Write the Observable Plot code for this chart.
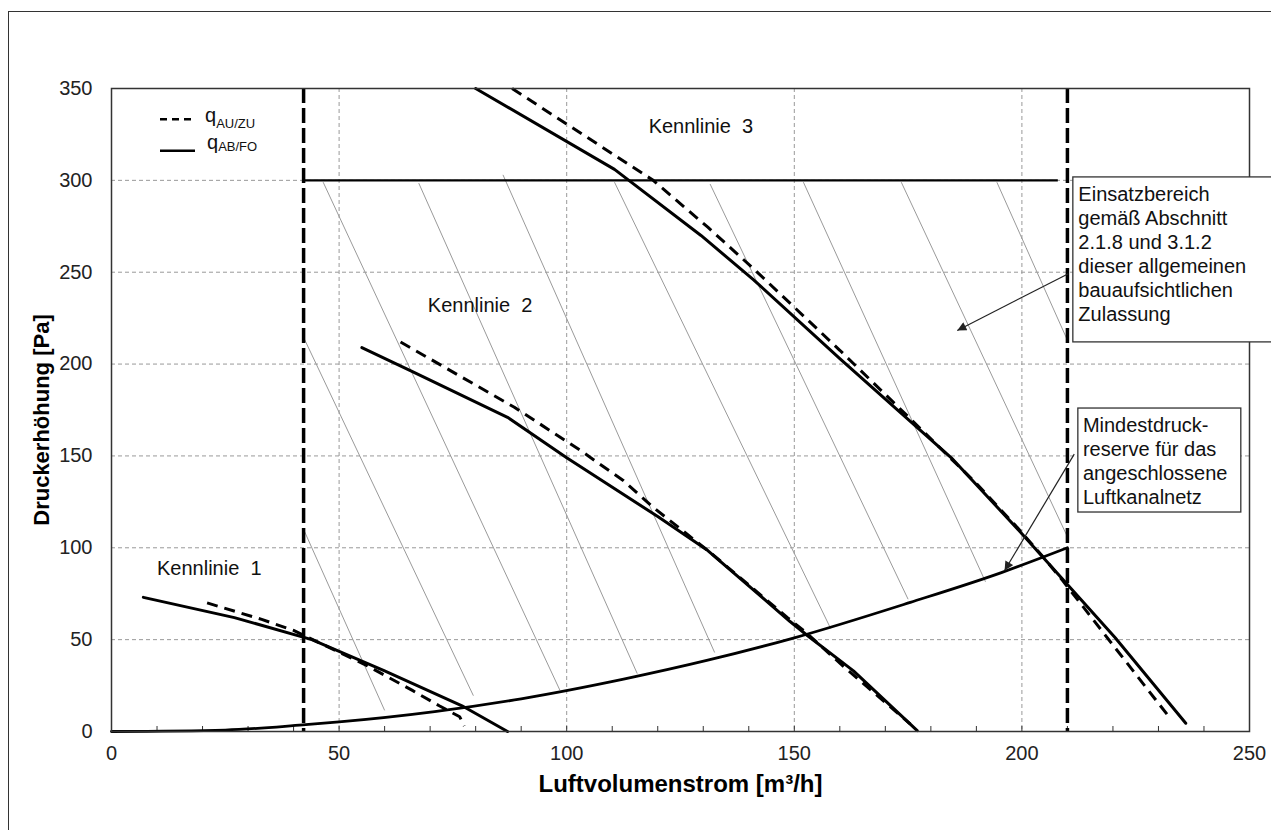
<!DOCTYPE html>
<html>
<head>
<meta charset="utf-8">
<script src="https://cdn.jsdelivr.net/npm/d3@7"></script>
<script src="https://cdn.jsdelivr.net/npm/@observablehq/plot@0.6"></script>
<style>
  html, body { margin: 0; padding: 0; background: #fff; overflow: hidden; }
  #wrap { position: relative; width: 1271px; height: 830px; }
  #outer { position: absolute; left: 8px; top: 11px; width: 1400px; height: 900px; border: 1.5px solid #333; box-sizing: border-box; }
  #chart { position: absolute; left: 0; top: 0; }
</style>
</head>
<body>
<div id="wrap"><div id="outer"></div><div id="chart"></div></div>
<script>
// ---- data ----
const xTicks = [0, 50, 100, 150, 200, 250];
const yTicks = [0, 50, 100, 150, 200, 250, 300, 350];
const xGrid = [50, 100, 150, 200];
const yGrid = [50, 100, 150, 200, 250, 300];
const xMinor = [10, 20, 30, 40, 50, 60, 70, 80, 90, 100, 110, 120, 130, 140, 150, 160, 170, 180, 190, 200, 210, 220, 230, 240];

// Kennlinie 1
const k1Solid = [[7, 73], [27, 62], [44, 50], [60, 33], [77, 14], [87, 0]];
const k1Dashed = [[21, 70], [33, 61], [40, 55], [56, 36], [66, 22.5], [72, 14], [76.5, 8], [77.5, 3]];
// Kennlinie 2
const k2Solid = [[55, 209], [66, 196], [87, 171], [100, 149], [120, 117], [131, 98.5], [149, 60], [153, 52], [163, 33], [177, 0.5]];
const k2Dashed = [[63.5, 212], [88.5, 176.5], [103, 153], [112.5, 136.5], [119, 122], [131.5, 97.5], [148.5, 62], [152.5, 54], [161, 35], [175.5, 4]];
// Kennlinie 3
const k3Solid = [[80, 350], [110.5, 306], [129.5, 270], [141, 246], [160, 203], [184.5, 149], [199.5, 109], [210, 80], [220.5, 51], [236, 4.5]];
const k3Dashed = [[88, 350], [119, 300], [131, 274.5], [141, 252], [160, 207.5], [176, 169], [190, 135], [199, 111], [205, 94], [209, 82], [232, 9]];
// Mindestdruckreserve
const minCurve = [[0, 0], [25, 0.8], [42, 3.6], [50, 5.2], [71, 10.8], [90, 17.8], [112.5, 28.5], [131, 38.8], [150, 51], [175.5, 70.3], [195.5, 86.5], [210, 100]];

// Einsatzbereich limits
const limitX = [42.2, 210];
const limitTop = 300;
const limitTopX = [42.2, 208];

// hatch lines [x1, y1, x2, y2]
const hatch = [
  [42.2, 110, 60, 11.5],
  [42.2, 214.5, 79.5, 19.5],
  [46.5, 299, 98.5, 22.5],
  [67.5, 298.5, 115.5, 31.5],
  [86, 303, 132.5, 43],
  [110.5, 299, 158, 56],
  [131.5, 298, 175, 72],
  [152, 299, 192, 81.5],
  [173.5, 299, 210, 106],
  [194.5, 299, 210, 213]
];

// labels
const kennText = ["Kennlinie\u00a0 1", "Kennlinie\u00a0 2", "Kennlinie\u00a0 3"];
const kennX = [10, 69.5, 118];
const kennY = [88.7, 232, 329.3];

const boxText = [
  "Einsatzbereich\ngemäß Abschnitt\n2.1.8 und 3.1.2\ndieser allgemeinen\nbauaufsichtlichen\nZulassung",
  "Mindestdruck-\nreserve für das\nangeschlossene\nLuftkanalnetz"
];
const boxX1 = [211.3, 212.4];
const boxX2 = [262, 248.2];
const boxY1 = [211.8, 119.2];
const boxY2 = [301.6, 175.8];
const boxTextX = [212.4, 213.4];
const boxTextY = [298.3, 172.1];

const arrowX1 = [210.2, 211.5];
const arrowY1 = [249.2, 151];
const arrowX2 = [185.8, 196.2];
const arrowY2 = [218.3, 87.6];

const xTitle = "Luftvolumenstrom [m³/h]";
const yTitle = "Druckerhöhung [Pa]";
const legendMain = ["q", "q"];
const legendSub = ["AU/ZU", "AB/FO"];

// ---- chart ----
const FONT = "'Liberation Sans', Arial, Helvetica, sans-serif";
const lineStyle = {x: d => d[0], y: d => d[1], stroke: "#000", strokeWidth: 3, strokeLinejoin: "round"};
const dashStyle = {...lineStyle, strokeDasharray: "11,7", strokeLinejoin: "miter", strokeLinecap: "butt"};

const plot = Plot.plot({
  width: 1271,
  height: 830,
  marginLeft: 111,
  marginRight: 22,
  marginTop: 88,
  marginBottom: 99,
  style: {fontSize: "20px", fontFamily: FONT, background: "transparent", color: "#222"},
  x: {domain: [0, 250]},
  y: {domain: [0, 350]},
  marks: [
    Plot.gridX(xGrid, {stroke: "#999", strokeOpacity: 1, strokeDasharray: "4,3"}),
    Plot.gridY(yGrid, {stroke: "#999", strokeOpacity: 1, strokeDasharray: "4,3"}),
    Plot.link(hatch, {x1: d => d[0], y1: d => d[1], x2: d => d[2], y2: d => d[3], stroke: "#9a9a9a", strokeWidth: 1}),
    Plot.tickX(xMinor, {x: d => d, insetTop: 638, stroke: "#333", strokeWidth: 1}),
    Plot.axisY({ticks: yTicks, tickSize: 0, tickPadding: 19, label: null, fontSize: 20}),
    Plot.axisX({ticks: xTicks, tickSize: 0, tickPadding: 14, label: null, fontSize: 20}),
    Plot.line(minCurve, {...lineStyle, strokeWidth: 2.8, curve: "monotone-x"}),
    Plot.line(k1Solid, lineStyle),
    Plot.line(k1Dashed, dashStyle),
    Plot.line(k2Solid, lineStyle),
    Plot.line(k2Dashed, dashStyle),
    Plot.line(k3Solid, lineStyle),
    Plot.line(k3Dashed, dashStyle),
    Plot.ruleY([limitTop], {x1: limitTopX[0], x2: limitTopX[1], stroke: "#000", strokeWidth: 2.2}),
    Plot.ruleX(limitX, {stroke: "#000", strokeWidth: 3.5, strokeDasharray: "15,5"}),
    Plot.frame({stroke: "#333", strokeWidth: 1.5}),
    Plot.rect([0, 1], {x1: i => boxX1[i], x2: i => boxX2[i], y1: i => boxY1[i], y2: i => boxY2[i], fill: "#fff", stroke: "#333", strokeWidth: 1.3}),
    Plot.text([0, 1], {x: i => boxTextX[i], y: i => boxTextY[i], text: i => boxText[i], textAnchor: "start", lineAnchor: "top", lineHeight: 1.2, fontSize: 20, fill: "#111"}),
    Plot.text(kennText, {x: (d, i) => kennX[i], y: (d, i) => kennY[i], text: d => d, textAnchor: "start", fontSize: 20, fill: "#111"}),
    Plot.link([0, 1], {x1: i => arrowX1[i], y1: i => arrowY1[i], x2: i => arrowX2[i], y2: i => arrowY2[i], stroke: "#222", strokeWidth: 1.2, className: "annot-arrow"}),
    Plot.text([xTitle], {frameAnchor: "bottom", dy: 60, text: d => d, fontSize: 24, fontWeight: "bold", fill: "#000"}),
    Plot.text([yTitle], {frameAnchor: "left", textAnchor: "middle", rotate: -90, dx: -70, dy: 10, text: d => d, fontSize: 22, fontWeight: "bold", fill: "#000"})
  ]
});

document.getElementById("chart").appendChild(plot);

const svg = d3.select(plot);
// filled arrow heads for the annotation arrows
const defs = svg.insert("defs", ":first-child");
defs.append("marker").attr("id", "ahead").attr("viewBox", "0 0 10 10")
  .attr("refX", 10).attr("refY", 5).attr("markerWidth", 11).attr("markerHeight", 9)
  .attr("markerUnits", "userSpaceOnUse").attr("orient", "auto")
  .append("path").attr("d", "M0,0L10,5L0,10z").attr("fill", "#222");
svg.selectAll(".annot-arrow path, path.annot-arrow").attr("marker-end", "url(#ahead)");

// legend (top-left, inside plot)
const lg = svg.append("g").attr("font-family", FONT).attr("fill", "#111").attr("text-anchor", "start");
lg.append("line").attr("x1", 160).attr("x2", 194).attr("y1", 119.3).attr("y2", 119.3)
  .attr("stroke", "#000").attr("stroke-width", 2.5).attr("stroke-dasharray", "7,5");
lg.append("line").attr("x1", 160).attr("x2", 195).attr("y1", 150.7).attr("y2", 150.7)
  .attr("stroke", "#000").attr("stroke-width", 2.5);
const legendPos = [[205, 122, 6], [207, 148.7, 2.5]];
legendMain.forEach((q, i) => {
  const t = lg.append("text").attr("x", legendPos[i][0]).attr("y", legendPos[i][1]).attr("font-size", 20).attr("text-anchor", "start");
  t.append("tspan").text(q);
  t.append("tspan").attr("font-size", 13).attr("dy", legendPos[i][2]).text(legendSub[i]);
});
</script>
</body>
</html>
